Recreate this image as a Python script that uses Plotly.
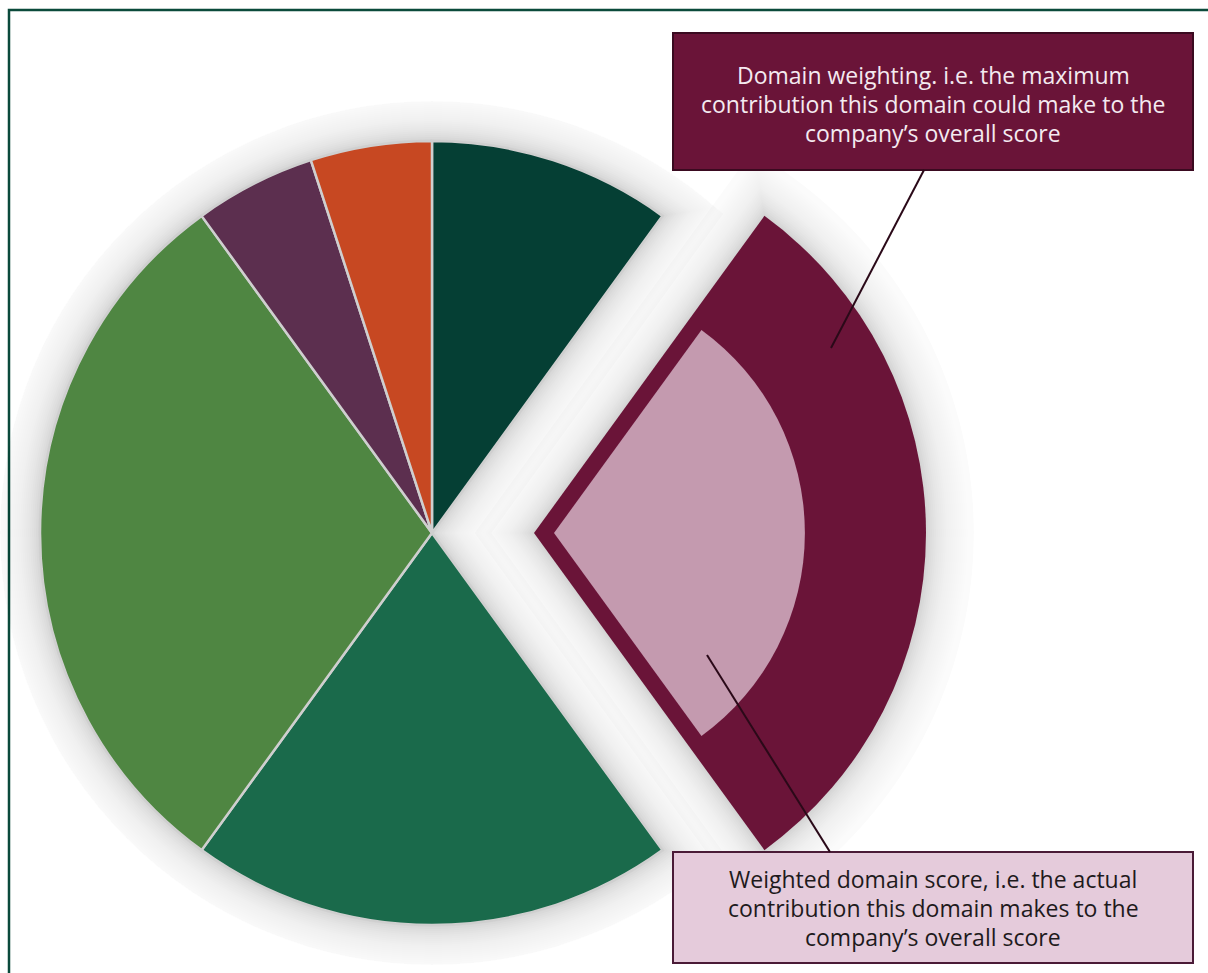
import numpy as np
import plotly.graph_objects as go

# ---- data -------------------------------------------------------------
domain_labels = ["Domain 1", "Domain 2", "Domain 3", "Domain 4", "Domain 5", "Domain 6"]
domain_weights = [10, 30, 20, 30, 5, 5]          # % of overall score, clockwise from 12 o'clock
slice_colors = ["#053F34", "#6A1438", "#1A6A4B", "#4F8642", "#5C2F4F", "#C74822"]
highlight_index = 1                              # domain pulled out of the pie
weighted_score_share = 0.64                      # share of the weighting actually achieved
score_color = "#C49AAF"

weighting_text = [
    "Domain weighting. i.e. the maximum",
    "contribution this domain could make to the",
    "company’s overall score",
]
score_text = [
    "Weighted domain score, i.e. the actual",
    "contribution this domain makes to the",
    "company’s overall score",
]

# ---- page geometry (pixels) -------------------------------------------
W, H = 1208, 973
PIE_R = 392                 # pie radius
MAIN_C = (432, 533)         # pie centre
PULL_PX = 102               # how far the highlighted slice is pulled out
INSET_PX = 20               # inset of the score wedge inside its slice
FONT = "Open Sans"
FONT_SIZE = 23

weights = np.array(domain_weights, dtype=float)
deg = weights / weights.sum() * 360.0
starts = np.cumsum(deg) - deg
ends = starts + deg
mids = starts + deg / 2

hl_start, hl_end, hl_mid = starts[highlight_index], ends[highlight_index], mids[highlight_index]
ux, uy = np.sin(np.radians(hl_mid)), -np.cos(np.radians(hl_mid))
PULL_C = (MAIN_C[0] + PULL_PX * ux, MAIN_C[1] + PULL_PX * uy)
SCORE_C = (MAIN_C[0] + (PULL_PX + INSET_PX) * ux, MAIN_C[1] + (PULL_PX + INSET_PX) * uy)


def reach(c):
    return min(c[0], W - c[0], c[1], H - c[1])


def polar_layout(c):
    rr = reach(c)
    return dict(
        domain=dict(x=[(c[0] - rr) / W, (c[0] + rr) / W],
                    y=[1 - (c[1] + rr) / H, 1 - (c[1] - rr) / H]),
        bgcolor="rgba(0,0,0,0)",
        bargap=0,
        radialaxis=dict(visible=False, range=[0, rr / PIE_R]),
        angularaxis=dict(visible=False, rotation=90, direction="clockwise"),
    )


fig = go.Figure()

# ---- soft drop shadow --------------------------------------------------
# nested translucent strokes; each band's opacity is chosen so the total
# darkness falls off smoothly with distance from the outline
band_half = np.arange(2, 50, 2)                       # half stroke widths, px


def shade(d):
    return 0.16 * np.exp(-d / 20.0)


cum = shade(band_half - 1.0)
band_alpha = []
for k in range(len(band_half)):
    outer = cum[k + 1] if k + 1 < len(band_half) else 0.0
    band_alpha.append(1 - (1 - cum[k]) / (1 - outer))

n_arc = 240
main_arc = np.linspace(hl_end, hl_start + 360, n_arc)
pulled_arc = np.linspace(hl_start, hl_end, n_arc)
# outlines are walked one step past their start so the corner at the
# centre gets a proper join instead of two open stroke ends
outlines = [
    ("polar",
     [0] + [1] * n_arc + [0, 1],
     [hl_end] + list(main_arc) + [hl_start + 360, hl_end]),
    ("polar2",
     [0] + [1] * n_arc + [0, 1],
     [hl_start] + list(pulled_arc) + [hl_end, hl_start]),
]
for sub, rr, th in outlines:
    for h, a in sorted(zip(band_half, band_alpha), reverse=True):
        fig.add_trace(go.Scatterpolar(
            r=rr, theta=th, mode="lines", subplot=sub,
            line=dict(color=f"rgba(0,0,0,{a:.4f})", width=2 * h),
            hoverinfo="skip", showlegend=False,
        ))

# ---- pie slices ---------------------------------------------------------
rest = [i for i in range(len(weights)) if i != highlight_index]
fig.add_trace(go.Barpolar(
    r=[1] * len(rest),
    theta=[mids[i] for i in rest],
    width=[deg[i] for i in rest],
    marker=dict(color=[slice_colors[i] for i in rest],
                line=dict(color="#CFCFCF", width=2.5)),
    hovertext=[domain_labels[i] for i in rest], hoverinfo="text",
    subplot="polar3", showlegend=False,
))

# highlighted slice: full weighting
fig.add_trace(go.Barpolar(
    r=[1], theta=[hl_mid], width=[deg[highlight_index]],
    marker=dict(color=slice_colors[highlight_index], line=dict(width=0)),
    hovertext=[domain_labels[highlight_index]], hoverinfo="text",
    subplot="polar4", showlegend=False,
))

# achieved part of the highlighted slice
fig.add_trace(go.Barpolar(
    r=[weighted_score_share], theta=[hl_mid], width=[deg[highlight_index]],
    marker=dict(color=score_color, line=dict(width=0)),
    hoverinfo="skip", subplot="polar5", showlegend=False,
))


def px_x(x):
    return x / W


def px_y(y):
    return 1 - y / H


shapes = [
    # outer frame
    dict(type="rect", xref="paper", yref="paper",
         x0=px_x(9), y0=px_y(10), x1=px_x(W + 10), y1=px_y(H + 10),
         line=dict(color="#0B4A3B", width=2.5), fillcolor="rgba(0,0,0,0)", layer="below"),
    # weighting call-out
    dict(type="rect", xref="paper", yref="paper",
         x0=px_x(673), y0=px_y(33), x1=px_x(1193), y1=px_y(170),
         line=dict(color="#3A0A20", width=2), fillcolor="#6A1438"),
    dict(type="line", xref="paper", yref="paper",
         x0=px_x(924), y0=px_y(170), x1=px_x(831), y1=px_y(348),
         line=dict(color="#2A0918", width=2)),
    # score call-out
    dict(type="rect", xref="paper", yref="paper",
         x0=px_x(673), y0=px_y(852), x1=px_x(1193), y1=px_y(963),
         line=dict(color="#4A1B37", width=2), fillcolor="#E5CBDB"),
    dict(type="line", xref="paper", yref="paper",
         x0=px_x(707), y0=px_y(655), x1=px_x(830), y1=px_y(852),
         line=dict(color="#2A0918", width=2)),
]

annotations = []
for k, line in enumerate(weighting_text):
    annotations.append(dict(
        x=px_x(933), y=px_y(75 + 29 * k), xref="paper", yref="paper",
        text=line, showarrow=False, xanchor="center", yanchor="middle",
        font=dict(family=FONT, size=FONT_SIZE, color="#F4EAF0"),
    ))
for k, line in enumerate(score_text):
    annotations.append(dict(
        x=px_x(933), y=px_y(879 + 29 * k), xref="paper", yref="paper",
        text=line, showarrow=False, xanchor="center", yanchor="middle",
        font=dict(family=FONT, size=FONT_SIZE, color="#1E1A1C"),
    ))

fig.update_layout(
    width=W, height=H,
    margin=dict(l=0, r=0, t=0, b=0),
    paper_bgcolor="white", plot_bgcolor="white",
    showlegend=False,
    polar=polar_layout(MAIN_C),
    polar2=polar_layout(PULL_C),
    polar3=polar_layout(MAIN_C),
    polar4=polar_layout(PULL_C),
    polar5=polar_layout(SCORE_C),
    shapes=shapes,
    annotations=annotations,
)

fig.write_html("out.html")
